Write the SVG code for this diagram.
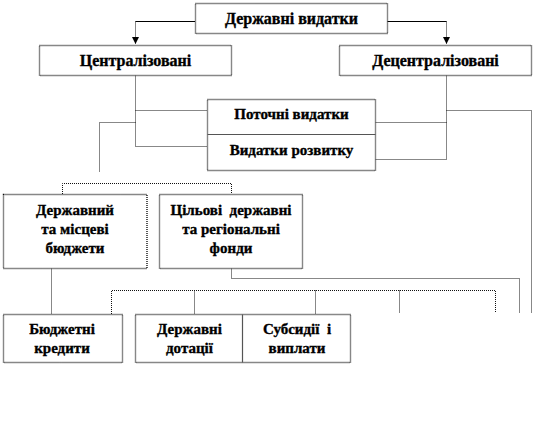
<svg xmlns="http://www.w3.org/2000/svg" width="546" height="426" viewBox="0 0 546 426">
<defs>
<style>
.box{fill:#fff;stroke:#111;stroke-width:1.4;stroke-dasharray:1 1}
.div{stroke:#555;stroke-width:1.2;fill:none}
.c{fill:none;stroke:#111;stroke-width:1;stroke-dasharray:1 1}
.s{fill:none;stroke:#000;stroke-width:1}
.lbl text{font-weight:bold;font-size:15px;fill:#000;stroke:#000;stroke-width:0.35;text-anchor:middle}
.lbl text.big{font-size:16px}
</style>
<marker id="ah" viewBox="0 0 8 8" refX="8" refY="4" markerWidth="7" markerHeight="7" markerUnits="userSpaceOnUse" orient="auto">
<path d="M0,0 L8,4 L0,8 z" fill="#000"/>
</marker>
</defs>
<rect width="546" height="426" fill="#fff"/>
<g id="connectors">
<path class="s" d="M195,21.5 H135.5"/>
<path class="c" d="M135.5,21.5 V44" marker-end="url(#ah)"/>
<path class="s" d="M387,21.5 H446.5"/>
<path class="c" d="M446.5,21.5 V44" marker-end="url(#ah)"/>
<path class="c" d="M135.5,75.5 V146.5 H207"/>
<path class="c" d="M135.5,110.5 H207"/>
<path class="c" d="M135.5,122.5 H99.5 V172"/>
<path class="c" d="M446.5,75.5 V159.5 H375"/>
<path class="c" d="M446.5,122.5 H375"/>
<path class="c" d="M446.5,110.5 H531.5 V313"/>
<path class="c" d="M62.5,194 V183.5 H231.5 V194"/>
<path class="c" d="M51.5,268.5 V314"/>
<path class="c" d="M231.5,268.5 V278.5 H519.5 V313"/>
<path class="c" d="M111.5,314 V290.5 H495.5 V313"/>
<path class="c" d="M194.5,290.5 V314"/>
<path class="c" d="M315.5,290.5 V314"/>
<path class="c" d="M399.5,290.5 V313"/>
</g>
<g class="lbl" font-family="'Liberation Serif', 'Times New Roman', serif">
<g id="n-derzhavni-vydatky">
<rect class="box" x="195.5" y="3.5" width="192" height="30"/>
<text class="big" x="291.5" y="24">Державні видатки</text>
</g>
<g id="n-tsentralizovani">
<rect class="box" x="39.5" y="45.5" width="192" height="30"/>
<text class="big" x="135.5" y="65.5">Централізовані</text>
</g>
<g id="n-detsentralizovani">
<rect class="box" x="339.5" y="45.5" width="192" height="30"/>
<text class="big" x="435.5" y="65.5">Децентралізовані</text>
</g>
<g id="n-potochni">
<rect class="box" x="207.5" y="99.5" width="168" height="71"/>
<line class="div" x1="207.5" y1="134.5" x2="375.5" y2="134.5"/>
<text x="291.5" y="118.5">Поточні видатки</text>
</g>
<g id="n-rozvytku">
<text x="291.5" y="154.5">Видатки розвитку</text>
</g>
<g id="n-biudzhety">
<rect class="box" x="3.5" y="194.5" width="143.5" height="74"/>
<text x="75" y="214.5">Державний</text>
<text x="75" y="233.5">та місцеві</text>
<text x="75" y="252.5">бюджети</text>
</g>
<g id="n-fondy">
<rect class="box" x="159.5" y="194.5" width="143" height="74"/>
<text x="231" y="214.5" xml:space="preserve">Цільові  державні</text>
<text x="231" y="233.5">та регіональні</text>
<text x="231" y="252.5">фонди</text>
</g>
<g id="n-kredyty">
<rect class="box" x="3.5" y="314.5" width="119" height="48"/>
<text x="62" y="333.5">Бюджетні</text>
<text x="62" y="352.5">кредити</text>
</g>
<g id="n-dotatsii">
<rect class="box" x="135.5" y="314.5" width="215" height="48"/>
<line class="div" x1="242.5" y1="314.5" x2="242.5" y2="362.5"/>
<text x="189.5" y="333.5">Державні</text>
<text x="189.5" y="352.5">дотації</text>
</g>
<g id="n-subsydii">
<text x="297" y="333.5" xml:space="preserve">Субсидії  і</text>
<text x="297" y="352.5">виплати</text>
</g>
</g>
</svg>
